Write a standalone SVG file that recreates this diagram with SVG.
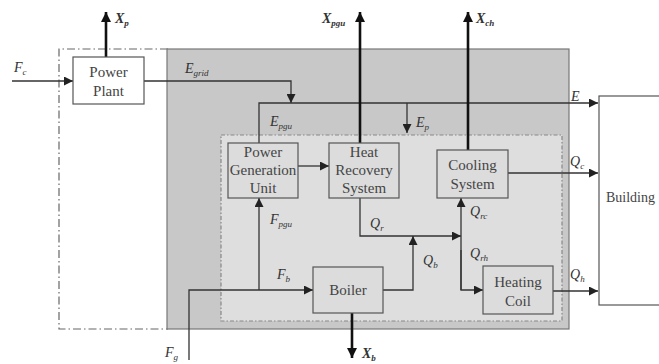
<svg xmlns="http://www.w3.org/2000/svg" width="659" height="364" viewBox="0 0 659 364" font-family="Liberation Serif, DejaVu Serif, serif">
<defs>
<marker id="ah" viewBox="0 0 10 10" refX="10" refY="5" markerWidth="9" markerHeight="9" markerUnits="userSpaceOnUse" orient="auto"><path d="M0,0 L10,5 L0,10 z" fill="#222"/></marker>
<marker id="ahb" viewBox="0 0 10 10" refX="10" refY="5" markerWidth="10" markerHeight="10" markerUnits="userSpaceOnUse" orient="auto"><path d="M0,0 L10,5 L0,10 z" fill="#111"/></marker>
<style>
.box{fill:#dcdcdc;stroke:#555;stroke-width:1.2}
.bt{font-size:15px;fill:#444;text-anchor:middle}
.lb{font-style:italic;font-size:14px;fill:#333}
.sb{font-size:9px}
.ln{fill:none;stroke:#333;stroke-width:1.3}
.th{fill:none;stroke:#111;stroke-width:2.6}
</style>
</defs>
<g id="boundary">
<path d="M168,49 H59 V329 H168" fill="none" stroke="#666" stroke-width="1.2" stroke-dasharray="8,3,1.5,3"/>
<rect x="167" y="49" width="402" height="280" fill="#c8c8c8" stroke="#777" stroke-width="1.2"/>
<rect x="221" y="135" width="341" height="186" fill="#dedede" stroke="#888" stroke-width="1.2" stroke-dasharray="4,2,1.5,2"/>
</g>
<g id="connectors">
<path class="ln" d="M12,81 H73" marker-end="url(#ah)"/>
<path class="ln" d="M144,81 H291 V103" marker-end="url(#ah)"/>
<path class="ln" d="M259,143 V103 H598" marker-end="url(#ah)"/>
<path class="ln" d="M407,103 V133" marker-end="url(#ah)"/>
<path class="ln" d="M298,166 H329" marker-end="url(#ah)"/>
<path class="ln" d="M189,360 V290 H313" marker-end="url(#ah)"/>
<path class="ln" d="M259,290 V198" marker-end="url(#ah)"/>
<path class="ln" d="M360,198 V236 H461" marker-end="url(#ah)"/>
<path class="ln" d="M383,290 H413 V236" marker-end="url(#ah)"/>
<path class="ln" d="M461,290 V198" marker-end="url(#ah)"/>
<path class="ln" d="M461,250 V290 H483" marker-end="url(#ah)"/>
<path class="ln" d="M508,173 H598" marker-end="url(#ah)"/>
<path class="ln" d="M553,291 H598" marker-end="url(#ah)"/>
<path class="th" d="M106,57 V12" marker-end="url(#ahb)"/>
<path class="th" d="M360,143 V12" marker-end="url(#ahb)"/>
<path class="th" d="M468,150 V12" marker-end="url(#ahb)"/>
<path class="th" d="M352,313 V358" marker-end="url(#ahb)"/>
</g>
<g id="power-plant">
<rect x="73" y="57" width="71" height="47" fill="#fff" stroke="#555" stroke-width="1.2"/>
<text class="bt" x="108.5" y="77">Power</text>
<text class="bt" x="108.5" y="96">Plant</text>
</g>
<g id="pgu">
<rect class="box" x="228" y="143" width="70" height="55"/>
<text class="bt" x="263" y="157">Power</text>
<text class="bt" x="263" y="175">Generation</text>
<text class="bt" x="263" y="193">Unit</text>
</g>
<g id="hrs">
<rect class="box" x="329" y="143" width="70" height="55"/>
<text class="bt" x="364" y="157">Heat</text>
<text class="bt" x="364" y="175">Recovery</text>
<text class="bt" x="364" y="193">System</text>
</g>
<g id="cooling">
<rect class="box" x="437" y="150" width="71" height="48"/>
<text class="bt" x="472.5" y="170">Cooling</text>
<text class="bt" x="472.5" y="189">System</text>
</g>
<g id="heating-coil">
<rect class="box" x="483" y="266" width="70" height="48"/>
<text class="bt" x="518" y="287">Heating</text>
<text class="bt" x="518" y="306">Coil</text>
</g>
<g id="boiler">
<rect class="box" x="313" y="267" width="70" height="46"/>
<text class="bt" x="348" y="295">Boiler</text>
</g>
<g id="building">
<rect x="599" y="96" width="70" height="209" fill="#fff" stroke="#555" stroke-width="1.2"/>
<text x="606" y="202" font-size="14" fill="#444">Building</text>
</g>
<g id="labels">
<text class="lb" x="115" y="23" font-weight="bold">X<tspan class="sb" dy="3">p</tspan></text>
<text class="lb" x="14" y="72">F<tspan class="sb" dy="3">c</tspan></text>
<text class="lb" x="185" y="73">E<tspan class="sb" dy="3">grid</tspan></text>
<text class="lb" x="322" y="23" font-weight="bold">X<tspan class="sb" dy="3">pgu</tspan></text>
<text class="lb" x="476" y="23" font-weight="bold">X<tspan class="sb" dy="3">ch</tspan></text>
<text class="lb" x="571" y="101">E</text>
<text class="lb" x="270" y="126">E<tspan class="sb" dy="3">pgu</tspan></text>
<text class="lb" x="416" y="127">E<tspan class="sb" dy="3">p</tspan></text>
<text class="lb" x="270" y="224">F<tspan class="sb" dy="3">pgu</tspan></text>
<text class="lb" x="370" y="228">Q<tspan class="sb" dy="3">r</tspan></text>
<text class="lb" x="423" y="265">Q<tspan class="sb" dy="3">b</tspan></text>
<text class="lb" x="470" y="216">Q<tspan class="sb" dy="3">rc</tspan></text>
<text class="lb" x="470" y="258">Q<tspan class="sb" dy="3">rh</tspan></text>
<text class="lb" x="570" y="166">Q<tspan class="sb" dy="3">c</tspan></text>
<text class="lb" x="570" y="279">Q<tspan class="sb" dy="3">h</tspan></text>
<text class="lb" x="277" y="279">F<tspan class="sb" dy="3">b</tspan></text>
<text class="lb" x="165" y="357">F<tspan class="sb" dy="3">g</tspan></text>
<text class="lb" x="362" y="358" font-weight="bold">X<tspan class="sb" dy="3">b</tspan></text>
</g>
</svg>
